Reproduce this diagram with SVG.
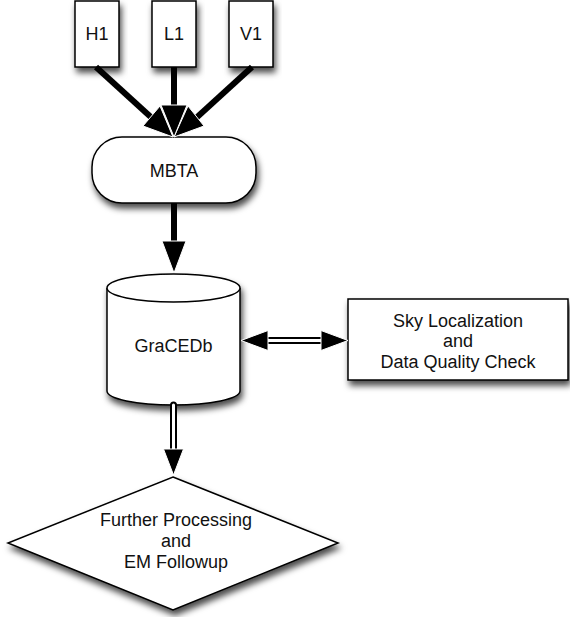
<svg xmlns="http://www.w3.org/2000/svg" width="570" height="617" viewBox="0 0 570 617">
<defs>
<filter id="sh" x="-20%" y="-20%" width="140%" height="150%">
<feDropShadow dx="2" dy="5" stdDeviation="3" flood-color="#000" flood-opacity="0.7"/>
</filter>
</defs>
<style>
.node{fill:#fff;stroke:#000;stroke-width:1.5}
.t{font-family:"Liberation Sans",Arial,sans-serif;font-size:18px;fill:#111;text-anchor:middle}
.thick{stroke:#000;stroke-width:6;fill:none}
.head{fill:#000;stroke:#fff;stroke-width:1}
.dbl-o{stroke:#000;stroke-width:7;fill:none;stroke-linecap:round}
.dbl-i{stroke:#fff;stroke-width:3;fill:none;stroke-linecap:round}
</style>
<rect width="570" height="617" fill="#fff"/>
<g id="H1"><rect class="node" x="75" y="1" width="44" height="66" filter="url(#sh)"/><text class="t" x="97" y="40">H1</text></g>
<g id="L1"><rect class="node" x="152" y="1" width="44" height="66" filter="url(#sh)"/><text class="t" x="174" y="40">L1</text></g>
<g id="V1"><rect class="node" x="229" y="1" width="44" height="66" filter="url(#sh)"/><text class="t" x="251" y="40">V1</text></g>
<g id="MBTA"><rect class="node" x="92" y="137" width="164" height="66" rx="30" ry="30" filter="url(#sh)"/><text class="t" x="174" y="177">MBTA</text></g>
<g id="GraCEDb">
<path class="node" d="M107,288 A66.5,14 0 0 1 240,288 L240,391 A66.5,14 0 0 1 107,391 Z" filter="url(#sh)"/>
<path class="node" d="M107,288 A66.5,14 0 0 0 240,288" fill="none"/>
<text class="t" x="173.5" y="352">GraCEDb</text></g>
<g id="SkyLoc"><rect class="node" x="348" y="299" width="220" height="81" filter="url(#sh)"/>
<text class="t" x="458" y="327">Sky Localization</text>
<text class="t" x="458" y="347">and</text>
<text class="t" x="458" y="368">Data Quality Check</text></g>
<g id="Further"><polygon class="node" points="173,477 338,543 173,610 8,543" filter="url(#sh)"/>
<text class="t" x="176" y="526">Further Processing</text>
<text class="t" x="176" y="547">and</text>
<text class="t" x="176" y="568">EM Followup</text></g>
<g id="connectors">
<line class="thick" x1="96" y1="67" x2="153" y2="119"/>
<line class="thick" x1="174" y1="67" x2="174" y2="110"/>
<line class="thick" x1="252" y1="67" x2="195" y2="119"/>
<line class="thick" x1="174" y1="203" x2="174" y2="246"/>
<polygon class="head" points="173,137 143,126 160,106"/>
<polygon class="head" points="174,137 204,126 188,106"/>
<polygon class="head" points="174,137 161,105 187,105"/>
<polygon class="head" points="174,273 162,241 186,241"/>
<line class="dbl-o" x1="265" y1="340.5" x2="323" y2="340.5" stroke-linecap="butt"/>
<line class="dbl-i" x1="264" y1="340.5" x2="324" y2="340.5" stroke-linecap="butt"/>
<polygon class="head" points="241,340.5 268,330.5 268,350.5" stroke="none"/>
<polygon class="head" points="348,340.5 321,330.5 321,350.5" stroke="none"/>
<line class="dbl-o" x1="173.5" y1="405" x2="173.5" y2="451"/>
<line class="dbl-i" x1="173.5" y1="405" x2="173.5" y2="452"/>
<polygon class="head" points="173.5,475 163.5,449 183.5,449" stroke="none"/>
</g>
</svg>
